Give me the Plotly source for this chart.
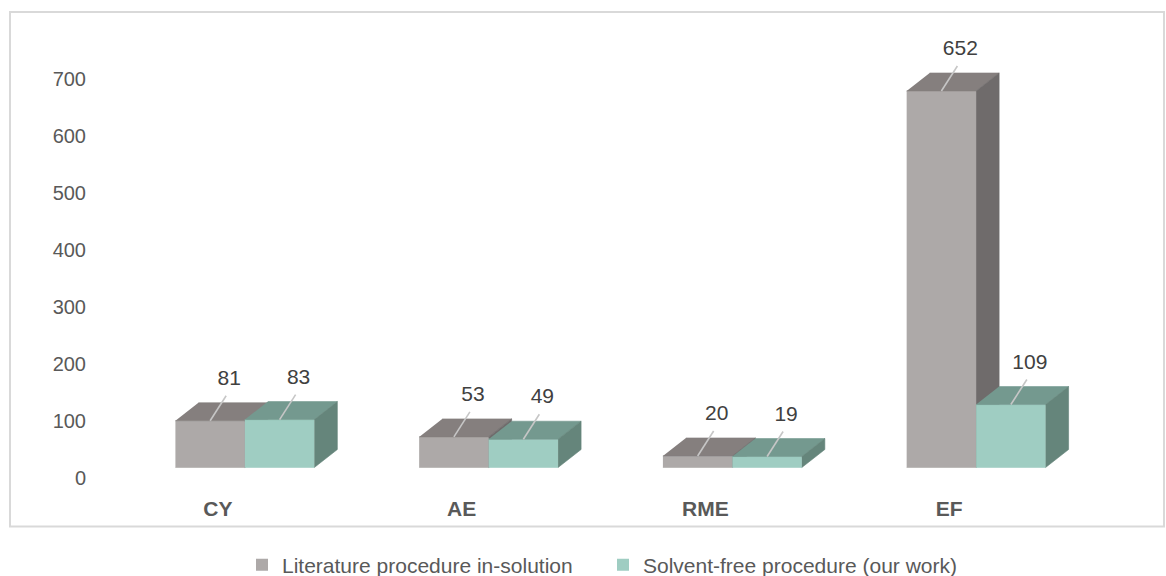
import plotly.graph_objects as go

# ---- data -------------------------------------------------------------
CATEGORIES = ["CY", "AE", "RME", "EF"]
LITERATURE = [81, 53, 20, 652]          # Literature procedure in-solution
SOLVENT_FREE = [83, 49, 19, 109]        # Solvent-free procedure (our work)
Y_TICKS = [0, 100, 200, 300, 400, 500, 600, 700]

SERIES = [
    dict(name="Literature procedure in-solution", values=LITERATURE,
         front="#ADA9A8", top="#857F7E", side="#6F6B6B"),
    dict(name="Solvent-free procedure (our work)", values=SOLVENT_FREE,
         front="#9FCDC2", top="#74998F", side="#65857B"),
]

# ---- page geometry (pixels) -------------------------------------------
W, H = 1166, 576
ML, MR, MT, MB = 123, 68, 29, 86
PW, PH = W - ML - MR, H - MT - MB
X_RANGE = (-0.5, 3.5)

FRONT_ZERO_PX = 467.5      # pixel row of value 0 on the bar fronts
FRONT_SCALE = 0.5775       # pixels per unit on the bar fronts
WALL_ZERO_PX = 477.5       # pixel row of value 0 on the value axis
WALL_SCALE = 0.5693        # pixels per unit on the value axis

BAR_W = 0.285              # width of one bar front, in category units
DEPTH_X_PX, DEPTH_Y_PX = 23, 18

px_per_x = PW / (X_RANGE[1] - X_RANGE[0])
DX = DEPTH_X_PX / px_per_x
DY = DEPTH_Y_PX / FRONT_SCALE

y_range = (-(MT + PH - FRONT_ZERO_PX) / FRONT_SCALE, (FRONT_ZERO_PX - MT) / FRONT_SCALE)
y2_range = (-(MT + PH - WALL_ZERO_PX) / WALL_SCALE, (WALL_ZERO_PX - MT) / WALL_SCALE)


def paper_x(px):
    return (px - ML) / PW


def paper_y(py):
    return (MT + PH - py) / PH


FONT = "Liberation Sans, Arial, sans-serif"
fig = go.Figure()


def polys(shapes):
    xs, ys = [], []
    for pts in shapes:
        for x, y in pts:
            xs.append(x)
            ys.append(y)
        xs.append(None)
        ys.append(None)
    return xs, ys


for k, s in enumerate(SERIES):
    fronts, tops, sides = [], [], []
    for i, v in enumerate(s["values"]):
        x0 = i - BAR_W + k * BAR_W
        x1 = x0 + BAR_W
        fronts.append([(x0, 0), (x1, 0), (x1, v), (x0, v)])
        tops.append([(x0, v), (x1, v), (x1 + DX, v + DY), (x0 + DX, v + DY)])
        sides.append([(x1, 0), (x1 + DX, DY), (x1 + DX, v + DY), (x1, v)])
    for shapes, col in ((fronts, s["front"]), (tops, s["top"]), (sides, s["side"])):
        xs, ys = polys(shapes)
        fig.add_trace(go.Scatter(
            x=xs, y=ys, mode="lines", fill="toself", fillcolor=col,
            line=dict(color=col, width=0.6), hoverinfo="skip", showlegend=False))

# leader lines and value labels
LEAD_DX, LEAD_DY = 16, 25
LABEL_DX, LABEL_DY = 19, 41
for k, s in enumerate(SERIES):
    lx, ly, tx, ty, tt = [], [], [], [], []
    for i, v in enumerate(s["values"]):
        xc = i - BAR_W + k * BAR_W + BAR_W / 2
        lx += [xc, xc + LEAD_DX / px_per_x, None]
        ly += [v, v + LEAD_DY / FRONT_SCALE, None]
        tx.append(xc + LABEL_DX / px_per_x)
        ty.append(v + LABEL_DY / FRONT_SCALE)
        tt.append(str(v))
    fig.add_trace(go.Scatter(x=lx, y=ly, mode="lines",
                             line=dict(color="#C6C6C6", width=1.6),
                             hoverinfo="skip", showlegend=False))
    fig.add_trace(go.Scatter(x=tx, y=ty, mode="text", text=tt,
                             textposition="middle center",
                             textfont=dict(family=FONT, size=21, color="#404040"),
                             hoverinfo="skip", showlegend=False))

# legend entries
for s in SERIES:
    fig.add_trace(go.Bar(x=[None], y=[None], name=s["name"],
                         marker=dict(color=s["front"], line=dict(width=0))))

# value axis labels live on a second y axis
fig.add_trace(go.Scatter(x=[0], y=[0], yaxis="y2", mode="markers",
                         marker=dict(opacity=0), hoverinfo="skip", showlegend=False))

fig.update_layout(
    width=W, height=H,
    margin=dict(l=ML, r=MR, t=MT, b=MB, pad=0, autoexpand=False),
    paper_bgcolor="white", plot_bgcolor="white",
    font=dict(family=FONT, color="#595959"),
    xaxis=dict(range=list(X_RANGE), tickvals=list(range(len(CATEGORIES))),
               ticktext=CATEGORIES, showgrid=False, zeroline=False, showline=False,
               ticks="", tickfont=dict(family=FONT, size=21, color="#595959", weight="bold"),
               ticklabelshift=-27, ticklabelstandoff=4, fixedrange=True, automargin=False),
    yaxis=dict(range=list(y_range), visible=False, fixedrange=True),
    yaxis2=dict(range=list(y2_range), overlaying="y", side="left", tickvals=Y_TICKS,
                showgrid=False, zeroline=False, showline=False, ticks="",
                tickfont=dict(family=FONT, size=20, color="#595959"),
                ticklabelstandoff=36, fixedrange=True, automargin=False),
    showlegend=True,
    legend=dict(orientation="h", x=paper_x(603), xanchor="center", y=paper_y(565),
                yanchor="middle", entrywidth=316, entrywidthmode="pixels",
                font=dict(family=FONT, size=21, color="#595959"),
                bgcolor="rgba(0,0,0,0)", itemclick=False, itemdoubleclick=False),
    shapes=[dict(type="rect", xref="paper", yref="paper",
                 x0=paper_x(10), x1=paper_x(1164), y0=paper_y(526.5), y1=paper_y(12),
                 line=dict(color="#D9D9D9", width=2), fillcolor="rgba(0,0,0,0)", layer="below")],
)

fig.write_html("out.html")
